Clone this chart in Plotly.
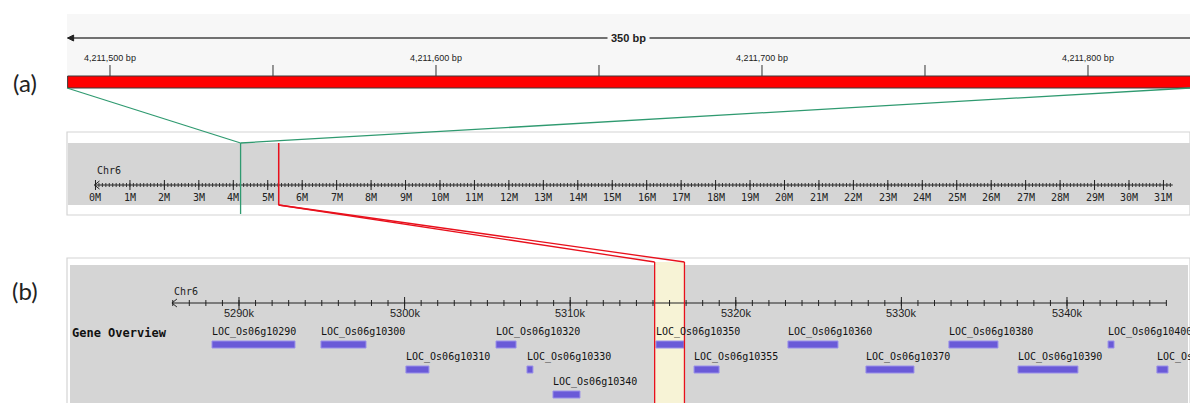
import plotly.graph_objects as go

W, H = 1190, 403

# ---------------- data ----------------
# Panel (a): zoomed base-pair view
top_ticks_major = [4211500, 4211600, 4211700, 4211800]
top_tick_labels = ["4,211,500 bp", "4,211,600 bp", "4,211,700 bp", "4,211,800 bp"]
top_ticks_minor = [4211550, 4211650, 4211750]
top_region = [4211487, 4211831]
scale_label = "350 bp"

# Chromosome overview (Mb)
chr_name = "Chr6"
chr_length_mb = 31.27
chr_major = list(range(0, 32))
chr_labels = [f"{m}M" for m in chr_major]
chr_minor = [i / 10 for i in range(0, 313)]
green_mark_mb = 4.2115
red_mark_mb = [5.3151, 5.3169]

# Panel (b): gene track (kb)
kb_major = [5290, 5300, 5310, 5320, 5330, 5340]
kb_labels = ["5290k", "5300k", "5310k", "5320k", "5330k", "5340k"]
kb_minor = list(range(5286, 5347))
kb_axis = [5285.95, 5346.0]
highlight_kb = [5315.1, 5316.9]

gene_names = ["LOC_Os06g10290", "LOC_Os06g10300", "LOC_Os06g10320", "LOC_Os06g10350",
              "LOC_Os06g10360", "LOC_Os06g10380", "LOC_Os06g10400",
              "LOC_Os06g10310", "LOC_Os06g10330", "LOC_Os06g10355", "LOC_Os06g10370",
              "LOC_Os06g10390", "LOC_Os06g10410",
              "LOC_Os06g10340"]
gene_start = [5288.37, 5294.95, 5305.52, 5315.18, 5323.15, 5332.87, 5342.48,
              5300.08, 5307.39, 5317.48, 5327.86, 5337.04, 5345.43,
              5308.96]
gene_end = [5293.38, 5297.67, 5306.73, 5316.87, 5326.17, 5335.83, 5342.84,
            5301.47, 5307.75, 5318.99, 5330.76, 5340.66, 5346.10,
            5310.59]
gene_row = [1, 1, 1, 1, 1, 1, 1,
            2, 2, 2, 2, 2, 2,
            3]

# ---------------- layout calibration ----------------
X1_RANGE = [4211466.26, 4211831.29]   # bp
X2_RANGE = [-2.772, 31.771]           # Mb
X3_RANGE = [5275.568, 5347.428]       # kb


def to_paper(v, rng):
    return (v - rng[0]) / (rng[1] - rng[0])


MONO = "DejaVu Sans Mono"
SANS = "Liberation Sans"
GREEN = "#2f9a70"
RED = "#e8101c"
GRAY = "#d5d5d5"
GENE = "#6a5ad8"

fig = go.Figure()
shapes = []
ann = []


def seg_trace(xs, y0, y1, xaxis, color="#222", width=1):
    X, Y = [], []
    for x in xs:
        X += [x, x, None]
        Y += [y0, y1, None]
    fig.add_trace(go.Scatter(x=X, y=Y, mode="lines", xaxis=xaxis, yaxis="y",
                             line=dict(color=color, width=width), hoverinfo="skip",
                             showlegend=False))


def hline_trace(x0, x1, y, xaxis, color="#222", width=1):
    fig.add_trace(go.Scatter(x=[x0, x1], y=[y, y], mode="lines", xaxis=xaxis, yaxis="y",
                             line=dict(color=color, width=width), hoverinfo="skip",
                             showlegend=False))


# ---------- panel (a) ----------
shapes.append(dict(type="rect", xref="paper", yref="y", x0=67 / W, x1=1.0, y0=14, y1=88,
                   fillcolor="#f7f7f7", line=dict(width=0), layer="below"))
# scale line with arrow
hline_trace(top_region[0], X1_RANGE[1], 38, "x", color="#444", width=1.5)
lx = to_paper(top_region[0], X1_RANGE)
shapes.append(dict(type="path", xref="paper", yref="y",
                   path=f"M {lx} 38 L {lx + 6 / W} 35 L {lx + 6 / W} 41 Z",
                   fillcolor="#222", line=dict(color="#222", width=1)))
ann.append(dict(x=sum(top_region) / 2, y=38, xref="x", yref="y", text=f"<b>{scale_label}</b>",
                showarrow=False, font=dict(family=SANS, size=11, color="#222"),
                bgcolor="#f7f7f7", borderpad=3))
for v, t in zip(top_ticks_major, top_tick_labels):
    ann.append(dict(x=v, y=58, xref="x", yref="y", text=t, showarrow=False,
                    font=dict(family=SANS, size=9, color="#222")))
seg_trace(top_ticks_major + top_ticks_minor, 65, 76, "x", color="#333", width=1)
# red region bar
shapes.append(dict(type="rect", xref="x", yref="y", x0=top_region[0], x1=top_region[1] + 5,
                   y0=76, y1=88, fillcolor="#ff0000", line=dict(color="#3a3a3a", width=1)))

# ---------- chromosome overview ----------
shapes.append(dict(type="rect", xref="paper", yref="y", x0=67 / W, x1=1.0, y0=132, y1=215,
                   fillcolor="white", line=dict(color="#d4d4d4", width=1.2), layer="below"))
shapes.append(dict(type="rect", xref="paper", yref="y", x0=68 / W, x1=1.0, y0=143, y1=205,
                   fillcolor=GRAY, line=dict(width=0), layer="below"))
hline_trace(-0.03, chr_length_mb, 185, "x2", color="#222", width=1.2)
seg_trace(chr_minor, 183, 187, "x2", color="#333", width=1)
seg_trace(chr_major, 180, 190, "x2", color="#222", width=1)
cx = to_paper(-0.03, X2_RANGE)
shapes.append(dict(type="path", xref="paper", yref="y",
                   path=f"M {cx + 5 / W} 181 L {cx} 185 L {cx + 5 / W} 189",
                   line=dict(color="#222", width=1)))
ann.append(dict(x=0.0, y=170, xref="x2", yref="y", text=chr_name, showarrow=False,
                xanchor="left", font=dict(family=MONO, size=10, color="#222")))
for v, t in zip(chr_major, chr_labels):
    ann.append(dict(x=v, y=197, xref="x2", yref="y", text=t, showarrow=False,
                    xanchor="center", font=dict(family=MONO, size=10, color="#222")))

# ---------- panel (b) ----------
shapes.append(dict(type="rect", xref="paper", yref="y", x0=67 / W, x1=1.0, y0=258, y1=410,
                   fillcolor="white", line=dict(color="#d4d4d4", width=1.2), layer="below"))
shapes.append(dict(type="rect", xref="paper", yref="y", x0=70 / W, x1=1188 / W, y0=265, y1=410,
                   fillcolor=GRAY, line=dict(width=0), layer="below"))
# highlight
shapes.append(dict(type="rect", xref="x3", yref="y", x0=highlight_kb[0], x1=highlight_kb[1],
                   y0=262, y1=410, fillcolor="#f7f3d6", line=dict(width=0), layer="below"))
hline_trace(kb_axis[0], kb_axis[1], 303, "x3", color="#222", width=1.2)
seg_trace(kb_minor, 300, 306, "x3", color="#222", width=1)
seg_trace(kb_major, 297, 309, "x3", color="#222", width=1)
kx = to_paper(kb_axis[0], X3_RANGE)
shapes.append(dict(type="path", xref="paper", yref="y",
                   path=f"M {kx + 5 / W} 299 L {kx} 303 L {kx + 5 / W} 307",
                   line=dict(color="#222", width=1)))
ann.append(dict(x=kb_axis[0], y=291, xref="x3", yref="y", text=chr_name, showarrow=False,
                xanchor="left", font=dict(family=MONO, size=10, color="#222")))
for v, t in zip(kb_major, kb_labels):
    ann.append(dict(x=v, y=313, xref="x3", yref="y", text=t, showarrow=False,
                    xanchor="center", font=dict(family=SANS, size=11, color="#222")))
ann.append(dict(x=70 / W, y=333, xref="paper", yref="y", text="<b>Gene Overview</b>",
                showarrow=False, xanchor="left", font=dict(family=MONO, size=12, color="#111")))

row_label_y = {1: 332, 2: 357, 3: 382}
row_bar_y = {1: (341, 348), 2: (366, 373), 3: (391, 398)}
for n, s, e, r in zip(gene_names, gene_start, gene_end, gene_row):
    y0, y1 = row_bar_y[r]
    shapes.append(dict(type="rect", xref="x3", yref="y", x0=s, x1=e, y0=y0, y1=y1,
                       fillcolor=GENE, line=dict(color="#9a90ea", width=1)))
    ann.append(dict(x=s, y=row_label_y[r], xref="x3", yref="y", text=n, showarrow=False,
                    xanchor="left", xshift=-2, font=dict(family=MONO, size=10, color="#111")))

# ---------- connectors ----------
gpx = to_paper(green_mark_mb, X2_RANGE)
shapes.append(dict(type="line", xref="paper", yref="y", x0=67 / W, y0=88, x1=gpx, y1=143,
                   line=dict(color=GREEN, width=1.3)))
shapes.append(dict(type="line", xref="paper", yref="y", x0=1.0, y0=88, x1=gpx, y1=143,
                   line=dict(color=GREEN, width=1.3)))
shapes.append(dict(type="line", xref="paper", yref="y", x0=gpx, y0=143, x1=gpx, y1=214,
                   line=dict(color=GREEN, width=1.3)))
for m, k in zip(red_mark_mb, highlight_kb):
    rpx = to_paper(m, X2_RANGE)
    kpx = to_paper(k, X3_RANGE)
    shapes.append(dict(type="line", xref="paper", yref="y", x0=rpx, y0=143, x1=rpx, y1=205,
                       line=dict(color=RED, width=1.3)))
    shapes.append(dict(type="line", xref="paper", yref="y", x0=rpx, y0=205, x1=kpx, y1=262,
                       line=dict(color=RED, width=1.3)))
    shapes.append(dict(type="line", xref="paper", yref="y", x0=kpx, y0=262, x1=kpx, y1=410,
                       line=dict(color=RED, width=1.3)))

# panel labels
ann.append(dict(x=25 / W, y=82, xref="paper", yref="y", text="(a)", showarrow=False,
                xanchor="center", font=dict(family="Lato", size=24, color="#222")))
ann.append(dict(x=25 / W, y=290, xref="paper", yref="y", text="(b)", showarrow=False,
                xanchor="center", font=dict(family="Lato", size=24, color="#222")))

ax_common = dict(visible=False, showgrid=False, zeroline=False, fixedrange=True, domain=[0, 1])
fig.update_layout(
    width=W, height=H, margin=dict(l=0, r=0, t=0, b=0),
    paper_bgcolor="white", plot_bgcolor="rgba(0,0,0,0)",
    showlegend=False,
    xaxis=dict(range=X1_RANGE, anchor="y", **ax_common),
    xaxis2=dict(range=X2_RANGE, anchor="y", overlaying="x", **ax_common),
    xaxis3=dict(range=X3_RANGE, anchor="y", overlaying="x", **ax_common),
    yaxis=dict(range=[H, 0], visible=False, showgrid=False, zeroline=False, fixedrange=True,
               domain=[0, 1]),
    shapes=shapes, annotations=ann,
)

fig.write_html("out.html", config={"displayModeBar": False},
               post_script="document.body.style.margin='0';document.body.style.overflow='hidden';")
